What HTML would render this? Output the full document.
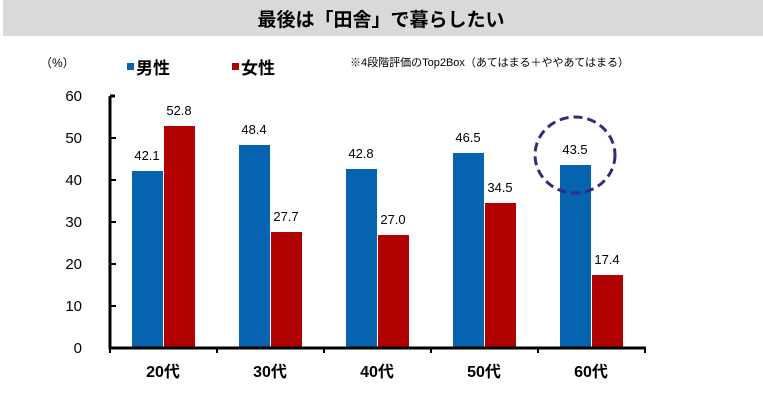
<!DOCTYPE html>
<html><head><meta charset="utf-8"><style>
body{margin:0;background:#fff;}
svg{display:block;font-family:"Liberation Sans","Noto Sans CJK JP",sans-serif;}
</style></head><body>
<svg width="763" height="401" viewBox="0 0 763 401" xmlns="http://www.w3.org/2000/svg">
<rect x="3" y="0" width="760" height="36" fill="#d9d9d9"/>
<text x="381" y="26" text-anchor="middle" font-size="19" font-weight="bold" fill="#000">最後は「田舎」で暮らしたい</text>
<text x="40" y="67" font-size="12" fill="#000">（%）</text>
<rect x="127" y="63" width="7" height="7" fill="#0563b0"/>
<text x="136" y="74" font-size="17" font-weight="bold">男性</text>
<rect x="232" y="63" width="7" height="7" fill="#b00000"/>
<text x="241" y="74" font-size="17" font-weight="bold">女性</text>
<text x="350" y="66" font-size="11" fill="#000">※4段階評価のTop2Box（あてはまる＋ややあてはまる）</text>
<g font-size="15" text-anchor="end" fill="#000">
<text x="82" y="101">60</text><text x="82" y="143">50</text><text x="82" y="185">40</text>
<text x="82" y="227">30</text><text x="82" y="269">20</text><text x="82" y="311">10</text><text x="82" y="353">0</text>
</g>
<g fill="#0563b0">
<rect x="132" y="171" width="31" height="177"/>
<rect x="239" y="145" width="31" height="203"/>
<rect x="346" y="169" width="31" height="179"/>
<rect x="453" y="153" width="31" height="195"/>
<rect x="560" y="165" width="31" height="183"/>
</g>
<g fill="#b00000">
<rect x="164" y="126" width="31" height="222"/>
<rect x="271" y="232" width="31" height="116"/>
<rect x="378" y="235" width="31" height="113"/>
<rect x="485" y="203" width="31" height="145"/>
<rect x="592" y="275" width="31" height="73"/>
</g>
<g font-size="13" text-anchor="middle" fill="#000">
<text x="147" y="160">42.1</text><text x="179" y="115">52.8</text>
<text x="254" y="134">48.4</text><text x="286" y="221">27.7</text>
<text x="361" y="158">42.8</text><text x="393" y="224">27.0</text>
<text x="468" y="142">46.5</text><text x="500" y="192">34.5</text>
<text x="575" y="154">43.5</text><text x="607" y="264">17.4</text>
</g>
<ellipse cx="575" cy="155" rx="40" ry="38" fill="none" stroke="#2e2e80" stroke-width="3" stroke-dasharray="9,5"/>
<g stroke="#000" stroke-width="3" fill="none">
<line x1="110" y1="96" x2="110" y2="349"/>
<line x1="110" y1="96" x2="115" y2="96"/>
<line x1="108.5" y1="348" x2="646" y2="348"/>
</g>
<g stroke="#000" stroke-width="2">
<line x1="110" y1="138" x2="116" y2="138"/><line x1="110" y1="180" x2="116" y2="180"/>
<line x1="110" y1="222" x2="116" y2="222"/><line x1="110" y1="264" x2="116" y2="264"/>
<line x1="110" y1="306" x2="116" y2="306"/>
<line x1="217" y1="348" x2="217" y2="353"/><line x1="324" y1="348" x2="324" y2="353"/>
<line x1="431" y1="348" x2="431" y2="353"/><line x1="538" y1="348" x2="538" y2="353"/>
<line x1="645" y1="348" x2="645" y2="353"/><line x1="110" y1="348" x2="110" y2="353"/>
</g>
<g font-size="16" font-weight="bold" text-anchor="middle" fill="#000">
<text x="163" y="377">20代</text><text x="270" y="377">30代</text><text x="377" y="377">40代</text>
<text x="484" y="377">50代</text><text x="591" y="377">60代</text>
</g>
</svg>
</body></html>
